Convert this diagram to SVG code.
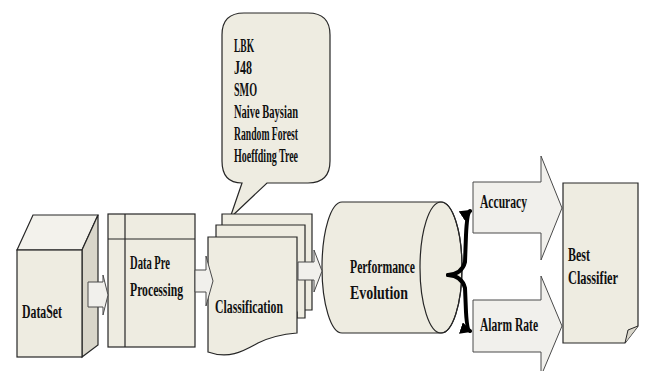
<svg xmlns="http://www.w3.org/2000/svg" width="646" height="371" viewBox="0 0 646 371">
<style>
.s{fill:#eeece1;stroke:#262626;stroke-width:1.2}
.a{fill:#f1f0ec;stroke:#4a4a4a;stroke-width:1}
.t{font-family:"Liberation Serif","Times New Roman",serif;font-weight:bold;font-size:18px;fill:#111}
.br{fill:none;stroke:#000;stroke-width:4;stroke-linecap:round;stroke-linejoin:round}
</style>
<defs>
<marker id="ah" viewBox="0 0 10 10" refX="8" refY="5" markerWidth="3" markerHeight="3" orient="auto">
<path d="M0,0 L10,5 L0,10 Z" fill="#000"/>
</marker>
</defs>
<rect width="646" height="371" fill="#fff"/>

<g id="dataset">
<path d="M17,250 L33,215 L98,215 L82,250 Z" fill="#f3f2ec" stroke="#262626" stroke-width="1.2"/>
<path d="M82,250 L98,215 L98,345 L82,357 Z" fill="#d9d6ca" stroke="#262626" stroke-width="1.2"/>
<rect class="s" x="17" y="250" width="65" height="107"/>
<text class="t" x="22" y="318" textLength="40" lengthAdjust="spacingAndGlyphs">DataSet</text>
</g>

<g id="preprocessing">
<rect class="s" x="108" y="214" width="87" height="133"/>
<line x1="125" y1="214" x2="125" y2="347" stroke="#262626" stroke-width="1.2"/>
<line x1="108" y1="239" x2="195" y2="239" stroke="#262626" stroke-width="1.2"/>
<text class="t" x="130" y="269" textLength="40" lengthAdjust="spacingAndGlyphs">Data Pre</text>
<text class="t" x="130" y="296" textLength="53" lengthAdjust="spacingAndGlyphs">Processing</text>
</g>

<g id="callout">
<path class="s" d="M244,13 L308,13 Q330,13 330,35 L330,161 Q330,183 308,183 L267,183 L230,218 L242,183 Q222,183 222,161 L222,35 Q222,13 244,13 Z"/>
<text class="t" x="234" y="52" textLength="20" lengthAdjust="spacingAndGlyphs">LBK</text>
<text class="t" x="234" y="74" textLength="18" lengthAdjust="spacingAndGlyphs">J48</text>
<text class="t" x="234" y="96" textLength="23" lengthAdjust="spacingAndGlyphs">SMO</text>
<text class="t" x="234" y="118" textLength="64" lengthAdjust="spacingAndGlyphs">Naive Baysian</text>
<text class="t" x="234" y="140" textLength="64" lengthAdjust="spacingAndGlyphs">Random Forest</text>
<text class="t" x="234" y="162" textLength="64" lengthAdjust="spacingAndGlyphs">Hoeffding Tree</text>
</g>

<g id="classification">
<path class="s" d="M222,214 L312,214 L312,310 L300,310 L300,305 L222,305 Z"/>
<path class="s" d="M216,225 L305,225 L305,318 L297,318 L297,312 L216,312 Z"/>
<path class="s" d="M208,237 L297,237 L297,333 C285,334 270,337 258,343 C245,350 230,360 208,352 Z"/>
<text class="t" x="215" y="313" textLength="68" lengthAdjust="spacingAndGlyphs">Classification</text>
</g>

<g id="performance">
<path class="s" d="M342,202 L441,202 A21,65.5 0 0 1 441,333 L342,333 A20,65.5 0 0 1 342,202 Z"/>
<ellipse cx="441" cy="267.5" rx="21" ry="65.5" fill="none" stroke="#262626" stroke-width="1.2"/>
<text class="t" x="350" y="273" textLength="65" lengthAdjust="spacingAndGlyphs">Performance</text>
<text class="t" x="350" y="299" textLength="58" lengthAdjust="spacingAndGlyphs">Evolution</text>
</g>

<g id="accuracy">
<path class="a" d="M473,182 L541,182 L541,156 L562,208 L541,260 L541,233 L473,233 Z"/>
<text class="t" x="480" y="208" textLength="47" lengthAdjust="spacingAndGlyphs">Accuracy</text>
</g>

<g id="alarmrate">
<path class="a" d="M473,300 L541,300 L541,276 L562,326 L541,376 L541,352 L473,352 Z"/>
<text class="t" x="480" y="331" textLength="58" lengthAdjust="spacingAndGlyphs">Alarm Rate</text>
</g>

<g id="best">
<path class="s" d="M563,183 L638,183 L638,326 L625,343 L563,343 Z"/>
<path d="M638,326 L628,330 L625,343" fill="#d9d6ca" stroke="#262626" stroke-width="1"/>
<text class="t" x="568" y="261" textLength="22" lengthAdjust="spacingAndGlyphs">Best</text>
<text class="t" x="568" y="284" textLength="50" lengthAdjust="spacingAndGlyphs">Classifier</text>
</g>

<g id="connectors">
<path class="a" d="M88,282 L103,282 L103,275 L108,295 L103,315 L103,307 L88,307 Z"/>
<path class="a" d="M195,270 L206,270 L206,256 L213,281 L206,306 L206,292 L195,292 Z"/>
<path class="a" d="M298,262 L314,262 L314,250 L322,271 L314,292 L314,280 L298,280 Z"/>
<path class="br" d="M448,275 Q462,274 465,262 L466,235 Q467,213 470,211" marker-end="url(#ah)"/>
<path class="br" d="M448,275 Q462,276 465,288 L466,312 Q467,330 470,331" marker-end="url(#ah)"/>
</g>
</svg>
